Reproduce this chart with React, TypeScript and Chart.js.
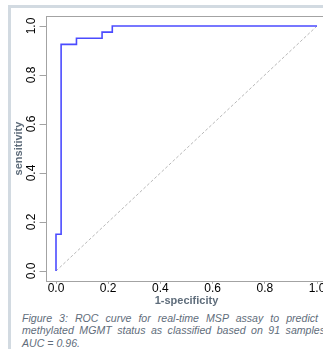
import React, { useEffect, useRef } from "react";
import { Chart, registerables } from "chart.js";

Chart.register(...registerables);

// ROC curve (1-specificity, sensitivity): 40 positives, 51 negatives
const rocFpr = [0, 0, 0.0196, 0.0196, 0.0784, 0.0784, 0.1765, 0.1765, 0.2157, 0.2157, 1.0];
const rocTpr = [0, 0.15, 0.15, 0.925, 0.925, 0.95, 0.95, 0.975, 0.975, 1.0, 1.0];
// reference diagonal
const diagX = [0, 1];
const diagY = [0, 1];
// tick values
const xTickValues = [0, 0.2, 0.4, 0.6, 0.8, 1.0];
const yTickValues = [0, 0.2, 0.4, 0.6, 0.8, 1.0];
const xTitle = "1-specificity";
const yTitle = "sensitivity";
const captionLines = [
  "Figure 3: ROC curve for real-time MSP assay to predict",
  "methylated MGMT status as classified based on 91 samples.",
  "AUC = 0.96.",
];

const FRAME = "#a3a3a3";
const TITLE = "#5f6d7b";
const FONT = "'Liberation Sans', Arial, Helvetica, sans-serif";

const CW = 340;
const CH = 310;

export default function App() {
  const ref = useRef<HTMLCanvasElement | null>(null);

  useEffect(() => {
    const canvas = ref.current;
    if (!canvas) return;
    const framePlugin = {
      id: "frame",
      beforeDatasetsDraw(chart: any) {
        const { ctx, chartArea: a } = chart;
        ctx.save();
        ctx.strokeStyle = FRAME;
        ctx.lineWidth = 1;
        ctx.strokeRect(Math.round(a.left) + 0.5, Math.round(a.top) + 0.5, Math.round(a.right - a.left), Math.round(a.bottom - a.top));
        ctx.restore();
      },
    };
    const chart = new Chart(canvas, {
      type: "line",
      data: {
        datasets: [
          {
            label: "ROC",
            data: rocFpr.map((x, i) => ({ x, y: rocTpr[i] })),
            borderColor: "#4b4bff",
            borderWidth: 1.6,
            pointRadius: 0,
            tension: 0,
            fill: false,
          },
          {
            label: "diag",
            data: diagX.map((x, i) => ({ x, y: diagY[i] })),
            borderColor: "#b8b8b8",
            borderWidth: 1,
            borderDash: [3, 2],
            pointRadius: 0,
            fill: false,
          },
        ],
      },
      options: {
        responsive: false,
        animation: false,
        devicePixelRatio: 1,
        layout: { padding: { left: 0, top: 16.2, right: CW - 327.44, bottom: 0 } },
        plugins: { legend: { display: false }, tooltip: { enabled: false } },
        scales: {
          x: {
            type: "linear",
            min: -0.04,
            max: 1.04,
            afterBuildTicks: (s: any) => {
              s.ticks = xTickValues.map((v) => ({ value: v }));
            },
            afterFit: (s: any) => {
              s.height = CH - 280.8;
            },
            grid: { drawOnChartArea: false, drawTicks: true, tickLength: 3, color: FRAME },
            border: { display: false },
            ticks: {
              autoSkip: false,
              maxRotation: 0,
              padding: -2,
              color: "#000",
              font: { family: FONT, size: 12 },
              callback: (v: any) => Number(v).toFixed(1),
            },
            title: {
              display: true,
              text: xTitle,
              color: TITLE,
              font: { family: FONT, size: 11, weight: "bold" },
              padding: { top: 0, bottom: 2.4 },
            },
          },
          y: {
            type: "linear",
            min: -0.04,
            max: 1.04,
            afterBuildTicks: (s: any) => {
              s.ticks = yTickValues.map((v) => ({ value: v }));
            },
            afterFit: (s: any) => {
              s.width = 45.56;
            },
            grid: { drawOnChartArea: false, drawTicks: true, tickLength: 6, color: FRAME },
            border: { display: false },
            ticks: {
              autoSkip: false,
              minRotation: 90,
              maxRotation: 90,
              crossAlign: "center",
              padding: -0.8,
              color: "#000",
              font: { family: FONT, size: 12 },
              callback: (v: any) => Number(v).toFixed(1),
            },
            title: {
              display: true,
              text: yTitle,
              color: TITLE,
              font: { family: FONT, size: 11, weight: "bold" },
              padding: { top: 12.4, bottom: 0 },
            },
          },
        },
      },
      plugins: [framePlugin],
    } as any);
    return () => chart.destroy();
  }, []);

  return (
    <div
      style={{
        position: "fixed",
        left: 0,
        top: 0,
        width: 323,
        height: 349,
        overflow: "hidden",
        background: "#fff",
      }}
    >
      <div style={{ position: "absolute", left: 8, top: 5, width: 400, height: 3, background: "#d2dae1" }} />
      <div style={{ position: "absolute", left: 8, top: 5, width: 3, height: 400, background: "#d2dae1" }} />
      <canvas
        ref={ref}
        width={CW}
        height={CH}
        style={{ position: "absolute", left: 0, top: 0, width: CW, height: CH }}
      />
      <div
        style={{
          position: "absolute",
          left: 22,
          top: 311.6,
          fontFamily: FONT,
          fontStyle: "italic",
          fontSize: 10.6,
          lineHeight: "12.7px",
          color: TITLE,
          whiteSpace: "nowrap",
        }}
      >
        <div style={{ width: 296, textAlign: "justify", textAlignLast: "justify", whiteSpace: "normal" }}>
          {captionLines[0]}
        </div>
        <div style={{ width: 306, textAlign: "justify", textAlignLast: "justify", whiteSpace: "normal" }}>
          {captionLines[1]}
        </div>
        <div>{captionLines[2]}</div>
      </div>
    </div>
  );
}
